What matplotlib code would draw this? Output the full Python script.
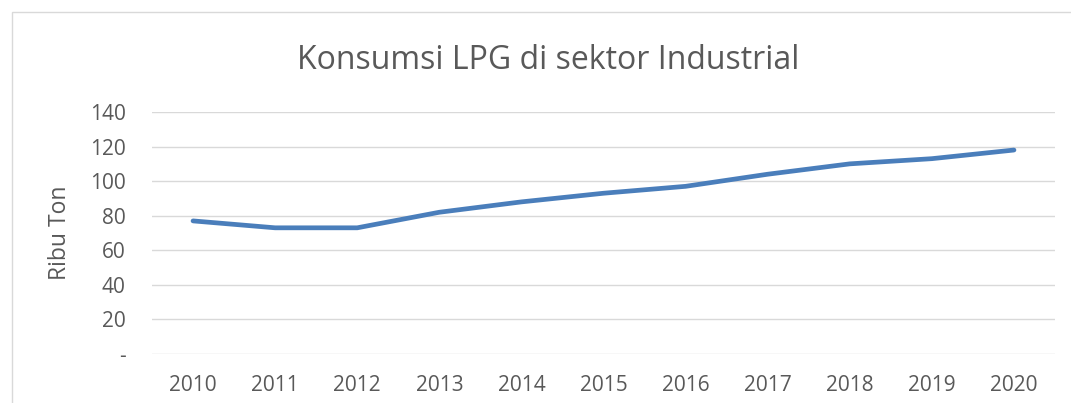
import matplotlib
matplotlib.use("Agg")
import matplotlib.pyplot as plt
from matplotlib.patches import Rectangle

years = ["2010", "2011", "2012", "2013", "2014", "2015", "2016", "2017", "2018", "2019", "2020"]
values = [77, 73, 73, 82, 88, 93, 97, 104, 110, 113, 118]
yticks = [0, 20, 40, 60, 80, 100, 120, 140]
ytick_labels = ["-", "20", "40", "60", "80", "100", "120", "140"]

W, H = 1071, 403
fig = plt.figure(figsize=(W / 100, H / 100), dpi=100)
plt.rcParams['font.family'] = ['Open Sans', 'DejaVu Sans']

# chart border (cropped at right and bottom)
fig.patches.append(Rectangle((12 / W, -0.1), 1.2, 1 - 12 / H + 0.1, transform=fig.transFigure,
                             fill=False, edgecolor='#d9d9d9', linewidth=1.0))

left, right = 152 / W, 1055 / W
top, bottom = 1 - 112 / H, 1 - 354 / H
ax = fig.add_axes([left, bottom, right - left, top - bottom])

x = list(range(len(years)))
ax.plot(x, values, color='#4a7ebb', linewidth=3.4, solid_capstyle='round', solid_joinstyle='round', zorder=3)

ax.set_xlim(-0.5, len(years) - 0.5)
ax.set_ylim(0, 140)
ax.set_yticks(yticks)
ax.set_yticklabels(ytick_labels)
ax.set_xticks(x)
ax.set_xticklabels(years)
ax.grid(axis='y', color='#d9d9d9', linewidth=1.0)
ax.set_axisbelow(True)
for s in ax.spines.values():
    s.set_visible(False)
ax.tick_params(axis='both', length=0, labelsize=15, colors='#595959')
ax.tick_params(axis='y', pad=19)
ax.tick_params(axis='x', pad=15)

ax.set_ylabel("Ribu Ton", fontsize=16.5, color='#595959', va='center')
ax.yaxis.set_label_coords((60 - 152) / (1055 - 152), 0.5)
fig.text(548 / W, 1 - 69 / H, "Konsumsi LPG di sektor Industrial", ha='center', va='baseline',
         fontsize=23, color='#595959')

fig.savefig("out.png", dpi=100)
